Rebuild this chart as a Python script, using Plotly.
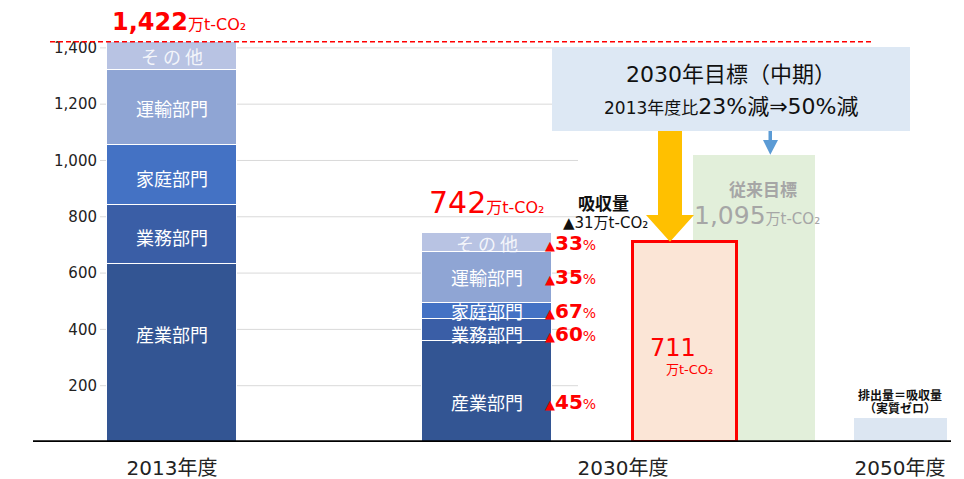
import plotly.graph_objects as go

FONT = "DejaVu Sans, Noto Sans CJK JP, sans-serif"
JFONT = "Noto Sans CJK JP, sans-serif"

# ---------------- data ----------------
sectors = ["産業部門", "業務部門", "家庭部門", "運輸部門", "その他"]
sector_labels = ["産業部門", "業務部門", "家庭部門", "運輸部門", "そ の 他"]
emis_2013 = [632, 209, 214, 266, 101]
emis_2030 = [358, 78, 59, 180, 67]
cut_2030 = ["45", "60", "67", "35", "33"]
total_2013 = 1422
total_2030 = 742
absorb_2030 = 31
target_2030 = 711
old_target_bar = 1020
old_target_label = "1,095"
net_zero_2050 = 85
y_ticks = [200, 400, 600, 800, 1000, 1200, 1400]
cat_labels = ["2013年度", "2030年度", "2050年度"]

# ---------------- layout positions ----------------
X2013, X2030, XTGT, XOLD, X2050 = 172, 487, 685, 754, 900
cat_pos = [172, 623, 900]
W_MAIN, W_TGT, W_OLD, W_2050 = 130, 104, 122, 93
colors = ["#335593", "#3a5ea6", "#4472c4", "#8fa5d4", "#b8c3e3"]
# label nudges (axis units) relative to segment middles
dy_2013 = [68, -10, -10, 0, 0]
dy_2030 = [-38, -14, 0, 0, 0]
RED = "#ff0000"
XMIN, XMAX = 100, 951
YMAX = 1499

def px(xp):
    """pixel -> paper x"""
    return (xp - XMIN) / (XMAX - XMIN)

fig = go.Figure()

for i, s in enumerate(sectors):
    fig.add_trace(go.Bar(
        x=[X2013, X2030], y=[emis_2013[i], emis_2030[i]], width=W_MAIN, name=s,
        marker=dict(color=colors[i], line=dict(color="white", width=1.5)),
        hoverinfo="skip", showlegend=False))

fig.add_trace(go.Bar(x=[XOLD], y=[old_target_bar], width=W_OLD,
                     marker=dict(color="#e2efda", line=dict(width=0)),
                     hoverinfo="skip", showlegend=False))
fig.add_trace(go.Bar(x=[XTGT], y=[target_2030], width=W_TGT,
                     marker=dict(color="#fbe5d6", line=dict(color=RED, width=3)),
                     hoverinfo="skip", showlegend=False))
fig.add_trace(go.Bar(x=[X2050], y=[net_zero_2050], width=W_2050,
                     marker=dict(color="#dce6f2", line=dict(width=0)),
                     hoverinfo="skip", showlegend=False))

shapes = []
for v in y_ticks:
    shapes.append(dict(type="line", xref="x", yref="y", x0=XMIN, x1=578, y0=v, y1=v,
                       line=dict(color="#d9d9d9", width=1), layer="below"))
shapes.append(dict(type="line", xref="paper", yref="y", x0=px(33), x1=1, y0=0, y1=0,
                   line=dict(color="black", width=3.5)))
shapes.append(dict(type="line", xref="paper", yref="y", x0=px(50), x1=px(872),
                   y0=total_2013, y1=total_2013,
                   line=dict(color=RED, width=1.5, dash="5px,3px")))
BOX_B, BOX_T = 1105, 1403
shapes.append(dict(type="rect", xref="x", yref="y", x0=552, x1=910, y0=BOX_B, y1=BOX_T,
                   fillcolor="#dde8f4", line=dict(width=0)))
sh_b = 806
shapes.append(dict(type="path", xref="x", yref="y",
                   path=f"M 658 {BOX_B} L 682 {BOX_B} L 682 {sh_b} L 694 {sh_b} "
                        f"L 670 {target_2030} L 646 {sh_b} L 658 {sh_b} Z",
                   fillcolor="#ffc000", line=dict(width=0)))
hb = 1073
shapes.append(dict(type="path", xref="x", yref="y",
                   path=f"M 768.5 {BOX_B} L 772 {BOX_B} L 772 {hb} L 778 {hb} "
                        f"L 770.3 {old_target_bar} L 763 {hb} L 768.5 {hb} Z",
                   fillcolor="#5b9bd5", line=dict(width=0)))

ann = []
def A(x, y, text, size, color="#222", xanchor="center", xref="x", family=FONT):
    ann.append(dict(x=x, y=y, xref=xref, yref="y", text=text, showarrow=False,
                    xanchor=xanchor, yanchor="middle",
                    font=dict(family=family, size=size, color=color)))

A(px(5), 1517, "（万t-CO₂）", 12, "#333", xanchor="left", xref="paper")
A(110, 1492, "<b>1,422</b><span style='font-size:16px'>万t-CO₂</span>", 24, RED, xanchor="left")

def mids(vals):
    out, c = [], 0
    for v in vals:
        out.append(c + v / 2)
        c += v
    return out

for i, (m13, m30) in enumerate(zip(mids(emis_2013), mids(emis_2030))):
    col = "rgba(255,255,255,0.85)" if i == 4 else "white"
    A(X2013, m13 + dy_2013[i], sector_labels[i], 18, col, family=JFONT)
    A(X2030, m30 + dy_2030[i], sector_labels[i], 18, col, family=JFONT)
    A(543, m30 + dy_2030[i], f"<span style='font-size:13px'>▲</span><b>{cut_2030[i]}</b>"
                f"<span style='font-size:14px'>%</span>", 20, RED, xanchor="left")

A(427, 849, f"{total_2030}<span style='font-size:16px'>万t-CO₂</span>", 30, RED, xanchor="left")
A(603, 849, "<b>吸収量</b>", 17, "#111", family=JFONT)
A(605, 778, f"▲{absorb_2030}万t-CO₂", 15, "#111")

A(731, 1304, "2030年目標（中期）", 22, "#111")
A(731, 1190, "<span style='font-size:17px'>2013年度比</span>23%減⇒50%減", 22, "#111")

A(763, 902, "<b>従来目標</b>", 17, "#a6a6a6", family=JFONT)
A(757, 806, f"{old_target_label}<span style='font-size:15px'>万t-CO₂</span>", 25, "#a6a6a6")

A(648, 334, f"{target_2030}", 24, RED, xanchor="left")
A(664, 259, "万t-CO₂", 13, RED, xanchor="left")

A(900, 170, "<b>排出量＝吸収量</b>", 12, "#111", family=JFONT)
A(900, 121, "<b>（実質ゼロ）</b>", 12, "#111", family=JFONT)

fig.update_layout(
    width=964, height=479, barmode="stack", bargap=0,
    margin=dict(l=XMIN, r=964 - XMAX, t=20, b=37, autoexpand=False),
    plot_bgcolor="white", paper_bgcolor="white",
    font=dict(family=FONT),
    shapes=shapes, annotations=ann,
    xaxis=dict(range=[XMIN, XMAX], tickvals=cat_pos, ticktext=cat_labels,
               showgrid=False, zeroline=False, showline=False, ticks="",
               automargin=False,
               tickfont=dict(size=20, color="#222"), ticklabelstandoff=12),
    yaxis=dict(range=[0, YMAX], tickvals=y_ticks, tickformat=",",
               showgrid=False, zeroline=False, showline=False, ticks="",
               automargin=False,
               tickfont=dict(size=15, color="#222"), ticklabelstandoff=2),
)

fig.write_html("out.html", config={"displayModeBar": False},
               post_script="document.body.style.margin='0';")
